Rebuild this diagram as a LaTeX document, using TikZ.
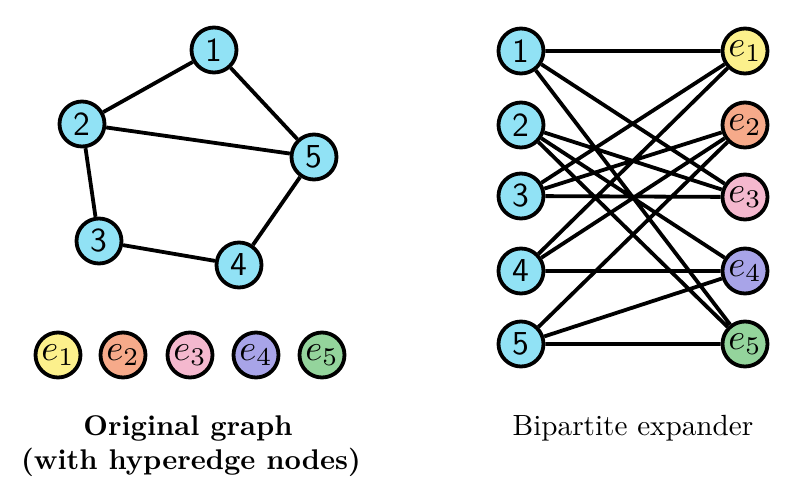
\RequirePackage{fix-cm}
\documentclass[tikz,border=0pt]{standalone}
\usepackage{fontspec}
\usepackage{tikz}
\usetikzlibrary{backgrounds}
\definecolor{vblue}{RGB}{145,226,245}
\definecolor{hy1}{RGB}{252,240,140}
\definecolor{hy2}{RGB}{246,170,138}
\definecolor{hy3}{RGB}{244,184,206}
\definecolor{hy4}{RGB}{168,164,232}
\definecolor{hy5}{RGB}{148,212,156}
\newcommand{\vlab}[1]{\scalebox{3.35}{\fontsize{10}{12}\selectfont\sffamily #1}}
\newcommand{\hlab}[1]{\scalebox{3.65}{\fontsize{10}{12}\selectfont $e_{#1}$}}
\begin{document}
\begin{tikzpicture}[x=1pt,y=-1pt,
  vnode/.style={circle,draw=black,line width=3.8pt,fill=vblue,minimum size=45pt,inner sep=0pt},
  hnode/.style={circle,draw=black,line width=3.8pt,minimum size=45pt,inner sep=0pt},
  edge/.style={line width=3.8pt},
  captxt/.style={anchor=base}]
\useasboundingbox (0,0) rectangle (800,501);
% left graph
\node[vnode] (a1) at (214,50) {\vlab{1}};
\node[vnode] (a2) at (82,124) {\vlab{2}};
\node[vnode] (a5) at (314,157) {\vlab{5}};
\node[vnode] (a3) at (99,241) {\vlab{3}};
\node[vnode] (a4) at (239,265) {\vlab{4}};
\begin{pgfonlayer}{background}
\draw[edge] (a1)--(a2) (a1)--(a5) (a2)--(a5) (a2)--(a3) (a3)--(a4) (a4)--(a5);
\end{pgfonlayer}
% hyperedge row
\node[hnode,fill=hy1] (h1) at (58,355) {\hlab{1}};
\node[hnode,fill=hy2] (h2) at (123,355) {\hlab{2}};
\node[hnode,fill=hy3] (h3) at (190,355) {\hlab{3}};
\node[hnode,fill=hy4] (h4) at (256,355) {\hlab{4}};
\node[hnode,fill=hy5] (h5) at (322,355) {\hlab{5}};
% bipartite
\node[vnode] (b1) at (521,51) {\vlab{1}};
\node[vnode] (b2) at (521,125) {\vlab{2}};
\node[vnode] (b3) at (521,196) {\vlab{3}};
\node[vnode] (b4) at (521,271) {\vlab{4}};
\node[vnode] (b5) at (521,344) {\vlab{5}};
\node[hnode,fill=hy1] (f1) at (745,51) {\hlab{1}};
\node[hnode,fill=hy2] (f2) at (745,125) {\hlab{2}};
\node[hnode,fill=hy3] (f3) at (745,197) {\hlab{3}};
\node[hnode,fill=hy4] (f4) at (745,271) {\hlab{4}};
\node[hnode,fill=hy5] (f5) at (745,344) {\hlab{5}};
\begin{pgfonlayer}{background}
\draw[edge] (b1)--(f1) (b1)--(f3) (b1)--(f5)
  (b2)--(f3) (b2)--(f4) (b2)--(f5)
  (b3)--(f1) (b3)--(f2) (b3)--(f3)
  (b4)--(f1) (b4)--(f2) (b4)--(f4)
  (b5)--(f2) (b5)--(f4) (b5)--(f5);
\end{pgfonlayer}
% captions
\node[captxt] (t1) at (188,435) {\scalebox{2.85}{\fontsize{10}{12}\selectfont\bfseries Original graph}};
\node[captxt] (t2) at (191,469) {\scalebox{2.85}{\fontsize{10}{12}\selectfont\bfseries (with hyperedge nodes)}};
\node[captxt] (t3) at (633,435) {\scalebox{2.92}{\fontsize{10}{12}\selectfont Bipartite expander}};
\end{tikzpicture}
\end{document}
